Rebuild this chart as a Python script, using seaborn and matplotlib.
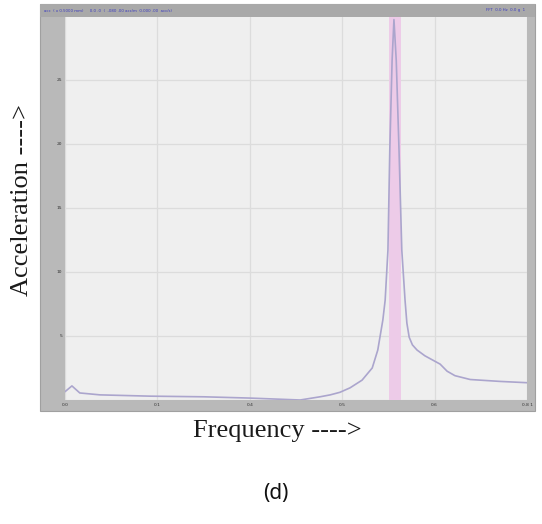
import numpy as np
import pandas as pd
import matplotlib
matplotlib.use("Agg")
import matplotlib.pyplot as plt
import seaborn as sns
from matplotlib.patches import Rectangle

# spectrum (x: 0..1 of span, y: grid units)
freq = [0.0, 0.015, 0.032, 0.076, 0.184, 0.30, 0.40, 0.509, 0.552, 0.574,
        0.595, 0.617, 0.643, 0.665, 0.677, 0.688, 0.693, 0.699, 0.703,
        0.708, 0.712, 0.717, 0.723, 0.729, 0.736, 0.740, 0.745, 0.752,
        0.762, 0.779, 0.812, 0.827, 0.844, 0.877, 0.942, 1.0]
accel = [0.13, 0.22, 0.11, 0.08, 0.06, 0.05, 0.03, 0.0, 0.05, 0.08,
         0.12, 0.19, 0.31, 0.5, 0.78, 1.25, 1.56, 2.34, 3.9,
         5.3, 5.94, 5.3, 3.9, 2.34, 1.56, 1.2, 0.98, 0.86,
         0.78, 0.69, 0.56, 0.45, 0.38, 0.32, 0.29, 0.27]
band = (0.701, 0.727)  # highlighted peak band

xticks = [0.0, 0.2, 0.4, 0.6, 0.8, 1.0]
xlabels = ["0.0", "0.1", "0.4", "0.5", "0.6", "0.8 1"]
yticks = [0, 1, 2, 3, 4, 5]
ylabels = ["", "5", "10", "15", "20", "25"]

df = pd.DataFrame({"freq": freq, "accel": accel})

sns.set_style("white")
W, H = 542, 524
fig = plt.figure(figsize=(W / 100, H / 100), dpi=100)

def box(x0, y0, x1, y1):
    # pixel box -> figure fraction
    return [x0 / W, 1 - y1 / H, (x1 - x0) / W, (y1 - y0) / H]

# screenshot frame
fig.patches.append(Rectangle((40 / W, 1 - 411 / H), 495 / W, 407 / H,
                             transform=fig.transFigure, facecolor="#b9b9b9",
                             edgecolor="#a0a0a0", lw=0.8, zorder=-2))
fig.patches.append(Rectangle((40 / W, 1 - 17 / H), 495 / W, 13 / H,
                             transform=fig.transFigure, facecolor="#a9a9a9",
                             edgecolor="none", zorder=-1))
fig.text(44 / W, 1 - 10.5 / H, "acc  ( x 0.5000 mm)     0.0 .0  (  -080 .00 acc/m  0.000 .00  acc/s)",
         fontsize=2.8, color="#3a3ac0", va="center", ha="left")
fig.text(525 / W, 1 - 10.5 / H, "FFT  0.0 Hz  0.0 g  1",
         fontsize=2.8, color="#3a3ac0", va="center", ha="right")

ax = fig.add_axes(box(65, 17, 527, 400))
ax.set_zorder(1)
ax.set_facecolor("#efefef")
ax.axvspan(band[0], band[1], color="#edcbe8", lw=0, zorder=1)
sns.lineplot(data=df, x="freq", y="accel", ax=ax, color="#aba5cd", lw=1.2, zorder=3)
ax.set_xlim(0, 1)
ax.set_ylim(0, 5.98)
ax.set_xticks(xticks)
ax.set_xticklabels(xlabels, fontsize=3.2, color="#333333")
ax.set_yticks(yticks)
ax.set_yticklabels(ylabels, fontsize=3.2, color="#333333")
ax.grid(True, color="#dcdcdc", lw=0.9)
ax.tick_params(length=0, pad=2)
for s in ax.spines.values():
    s.set_visible(False)
ax.set_xlabel("")
ax.set_ylabel("")

fig.text(22 / W, 1 - 200 / H, "Acceleration ---->", rotation=90,
         family="Liberation Serif", fontsize=19, va="center", ha="center",
         color="#1a1a1a")
fig.text(277 / W, 1 - 431 / H, "Frequency ---->", family="Liberation Serif",
         fontsize=19, va="center", ha="center", color="#1a1a1a")
fig.text(276 / W, 1 - 494 / H, "(d)", family="Noto Sans", fontsize=15,
         va="center", ha="center", color="#111111")

fig.savefig("out.png", dpi=100, facecolor="white")
